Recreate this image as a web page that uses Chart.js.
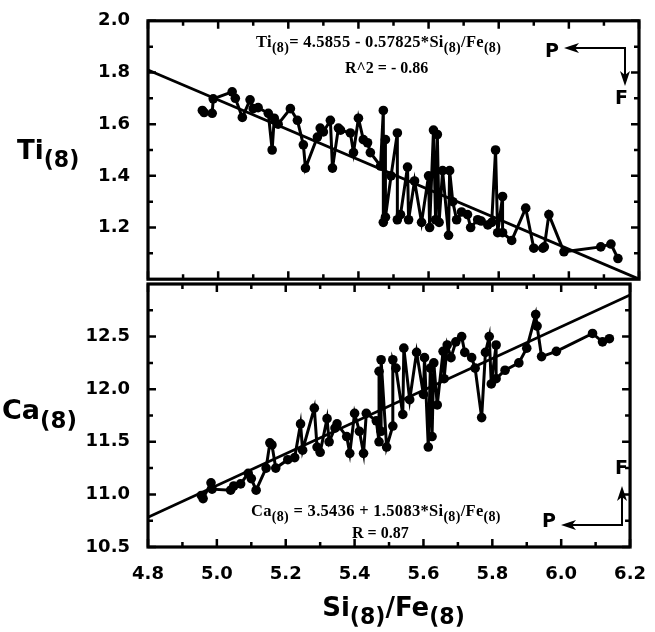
<!DOCTYPE html>
<html>
<head>
<meta charset="utf-8">
<script src="https://cdn.jsdelivr.net/npm/chart.js@4.4.1/dist/chart.umd.min.js"></script>
<style>
  body { margin:0; background:#fff; }
  #wrap { position:relative; width:655px; height:632px; overflow:hidden; background:#fff; }
  canvas { position:absolute; left:0; top:0; }
  .t { position:absolute; white-space:nowrap; color:#000; }
  .ax { font-family:"DejaVu Sans", sans-serif; font-weight:bold; line-height:1; }
  .ax sub { font-size:0.85em; vertical-align:-0.38em; line-height:0; }
  .eq { font-family:"Liberation Serif", "Times New Roman", serif; font-weight:bold; font-size:16.5px; line-height:18px; letter-spacing:0.3px; }
  .eq sub { font-size:0.85em; vertical-align:-0.35em; line-height:0; }
  .eq.r { font-size:16px; letter-spacing:0; }
  .pf { font-family:"DejaVu Sans", sans-serif; font-weight:bold; font-size:19px; line-height:19px; }
  svg { position:absolute; left:0; top:0; }
</style>
</head>
<body>
<div id="wrap">
  <canvas id="c1" width="655" height="300"></canvas>
  <canvas id="c2" width="655" height="632"></canvas>

  <div class="t ax" style="left:17px; top:137px; font-size:26px;">Ti<sub>(8)</sub></div>
  <div class="t ax" style="left:2px; top:396px; font-size:27px;">Ca<sub>(8)</sub></div>
  <div class="t ax" style="left:148px; width:491px; text-align:center; top:594px; font-size:26px;">Si<sub>(8)</sub>/Fe<sub>(8)</sub></div>

  <div class="t eq" style="left:256px; top:33px;">Ti<sub>(8)</sub>= 4.5855 - 0.57825*Si<sub>(8)</sub>/Fe<sub>(8)</sub></div>
  <div class="t eq r" style="left:345px; top:59px;">R^2 = - 0.86</div>
  <div class="t eq" style="left:251px; top:502px;">Ca<sub>(8)</sub> = 3.5436 + 1.5083*Si<sub>(8)</sub>/Fe<sub>(8)</sub></div>
  <div class="t eq r" style="left:352px; top:524px;">R = 0.87</div>

  <div class="t pf" style="left:545px; top:41px;">P</div>
  <div class="t pf" style="left:615px; top:88px;">F</div>
  <div class="t pf" style="left:615px; top:458px;">F</div>
  <div class="t pf" style="left:542px; top:511px;">P</div>

  <svg width="655" height="632">
    <g stroke="#000" stroke-width="2" fill="none">
      <line x1="570" y1="48" x2="625" y2="48"/>
      <line x1="625" y1="47" x2="625" y2="80"/>
      <line x1="622" y1="526" x2="622" y2="492"/>
      <line x1="623" y1="525" x2="567" y2="525"/>
    </g>
    <g fill="#000">
      <polygon points="564,48 579,43 575,48 579,53"/>
      <polygon points="625,86 620,71 625,75 630,71"/>
      <polygon points="622,486 617,501 622,497 627,501"/>
      <polygon points="561,525 576,520 572,525 576,530"/>
    </g>
  </svg>
</div>

<script>
// ---- data (in sample order) ----
const siFe = [4.955,4.960,4.983,4.986,5.040,5.049,5.069,5.091,5.100,5.114,
              5.143,5.154,5.160,5.171,5.206,5.226,5.243,5.249,5.283,5.291,
              5.300,5.320,5.326,5.343,5.349,5.377,5.386,5.400,5.414,5.426,
              5.434,5.463,5.471,5.471,5.477,5.477,5.493,5.511,5.511,5.520,
              5.540,5.543,5.560,5.580,5.600,5.603,5.614,5.620,5.625,5.630,
              5.640,5.657,5.660,5.669,5.680,5.694,5.711,5.720,5.740,5.750,
              5.769,5.780,5.791,5.797,5.811,5.811,5.837,5.877,5.900,5.926,
              5.930,5.943,5.986,6.091,6.120,6.140];
const ti8  = [1.653,1.645,1.642,1.698,1.725,1.700,1.626,1.694,1.660,1.664,
              1.642,1.500,1.623,1.600,1.660,1.615,1.520,1.430,1.550,1.585,
              1.570,1.615,1.430,1.585,1.577,1.566,1.490,1.623,1.540,1.528,
              1.490,1.438,1.653,1.220,1.540,1.240,1.400,1.566,1.230,1.250,
              1.434,1.230,1.380,1.220,1.400,1.200,1.577,1.230,1.560,1.220,
              1.420,1.170,1.420,1.300,1.230,1.260,1.250,1.200,1.230,1.225,
              1.210,1.220,1.500,1.180,1.320,1.180,1.150,1.275,1.120,1.120,
              1.125,1.250,1.106,1.125,1.136,1.080];
const ca8  = [10.99,10.96,11.11,11.05,11.04,11.08,11.10,11.20,11.15,11.04,
              11.25,11.49,11.47,11.25,11.33,11.35,11.67,11.42,11.82,11.45,
              11.40,11.72,11.50,11.63,11.67,11.55,11.39,11.77,11.60,11.39,
              11.77,11.70,11.50,12.17,11.60,12.28,11.45,11.65,12.28,12.20,
              11.76,12.39,11.90,12.35,11.95,12.30,11.45,12.20,11.55,12.25,
              11.85,12.36,12.10,12.42,12.30,12.45,12.50,12.35,12.30,12.20,
              11.73,12.35,12.50,12.05,12.42,12.10,12.18,12.25,12.39,12.71,
              12.60,12.31,12.36,12.53,12.45,12.48];

// regression coefficients (printed on the figure)
const tiFit = { a: 4.5855, b: -0.57825 };
const caFit = { a: 3.5436, b: 1.5083 };

// tick labels
const xTicks  = [4.8, 5.0, 5.2, 5.4, 5.6, 5.8, 6.0, 6.2];
const xMinor  = [4.9, 5.1, 5.3, 5.5, 5.7, 5.9, 6.1];
const tiTicks = [1.2, 1.4, 1.6, 1.8, 2.0];
const tiMinor = [1.1, 1.3, 1.5, 1.7, 1.9];
const caTicks = [10.5, 11.0, 11.5, 12.0, 12.5];
const caMinor = [10.75, 11.25, 11.75, 12.25, 12.75];

const X_RANGE = [4.8, 6.2];
const TI_RANGE = [1.0, 2.0];
const CA_RANGE = [10.5, 13.0];

// ---- drawing ----
const tickFont = { family: '"DejaVu Sans", sans-serif', size: 18, weight: 'bold' };

const framePlugin = {
  id: 'frame',
  afterDatasetsDraw(chart, args, opts) {
    const { ctx, chartArea: a, scales } = chart;
    const xs = scales.x, ys = scales.y;
    ctx.save();
    ctx.strokeStyle = '#000';
    ctx.lineCap = 'butt';
    ctx.lineWidth = 2.5;
    const major = 8, minor = 5;
    const xt = [...opts.xMajor.map(v => [v, major]), ...opts.xMinor.map(v => [v, minor])];
    const yt = [...opts.yMajor.map(v => [v, major]), ...opts.yMinor.map(v => [v, minor])];
    ctx.beginPath();
    xt.forEach(([v, L]) => {
      const px = xs.getPixelForValue(v);
      ctx.moveTo(px, a.bottom); ctx.lineTo(px, a.bottom - L);
      ctx.moveTo(px, a.top); ctx.lineTo(px, a.top + L);
    });
    yt.forEach(([v, L]) => {
      const py = ys.getPixelForValue(v);
      ctx.moveTo(a.left, py); ctx.lineTo(a.left + L, py);
      ctx.moveTo(a.right, py); ctx.lineTo(a.right - L, py);
    });
    ctx.stroke();
    ctx.lineWidth = 3.2;
    ctx.strokeRect(a.left, a.top, a.right - a.left, a.bottom - a.top);
    ctx.restore();
  }
};

function fitLine(fit) {
  return X_RANGE.map(x => ({ x, y: fit.a + fit.b * x }));
}

function makeChart(id, yVals, fit, yRange, yTicks, yMinor, isBottom) {
  const pts = siFe.map((x, i) => ({ x, y: yVals[i] }));
  return new Chart(document.getElementById(id), {
    type: 'scatter',
    data: {
      datasets: [
        { data: fitLine(fit), showLine: true, borderColor: '#000', borderWidth: 2.8,
          pointRadius: 0, clip: 0, order: 2 },
        { data: pts, showLine: true, borderColor: '#000', borderWidth: 3,
          pointRadius: 4.8, pointBackgroundColor: '#000', pointBorderWidth: 0,
          clip: 6, order: 1 }
      ]
    },
    options: {
      responsive: false, animation: false, devicePixelRatio: 1,
      layout: { padding: isBottom ? { left: 0, top: 284, right: 16, bottom: 0 }
                                  : { left: 0, top: 17, right: 16, bottom: 17 } },
      plugins: {
        legend: { display: false }, tooltip: { enabled: false },
        frame: { xMajor: xTicks, xMinor: xMinor, yMajor: yTicks, yMinor: yMinor }
      },
      scales: {
        x: {
          type: 'linear', min: X_RANGE[0], max: X_RANGE[1], display: isBottom,
          afterBuildTicks: s => { s.ticks = xTicks.map(v => ({ value: v })); },
          afterFit: s => { s.height = isBottom ? 85 : 0; },
          grid: { display: false }, border: { display: false },
          ticks: { font: tickFont, color: '#000', padding: 9, maxRotation: 0,
                   autoSkip: false, callback: v => v.toFixed(1) }
        },
        y: {
          type: 'linear', min: yRange[0], max: yRange[1],
          afterBuildTicks: s => { s.ticks = yTicks.map(v => ({ value: v })); },
          afterFit: s => { s.width = 148; },
          grid: { display: false }, border: { display: false },
          ticks: { font: tickFont, color: '#000', padding: 10, autoSkip: false,
                   callback: v => v.toFixed(1) }
        }
      }
    },
    plugins: [framePlugin]
  });
}

makeChart('c1', ti8, tiFit, TI_RANGE, tiTicks, tiMinor, false);
makeChart('c2', ca8, caFit, CA_RANGE, caTicks, caMinor, true);
</script>
</body>
</html>
